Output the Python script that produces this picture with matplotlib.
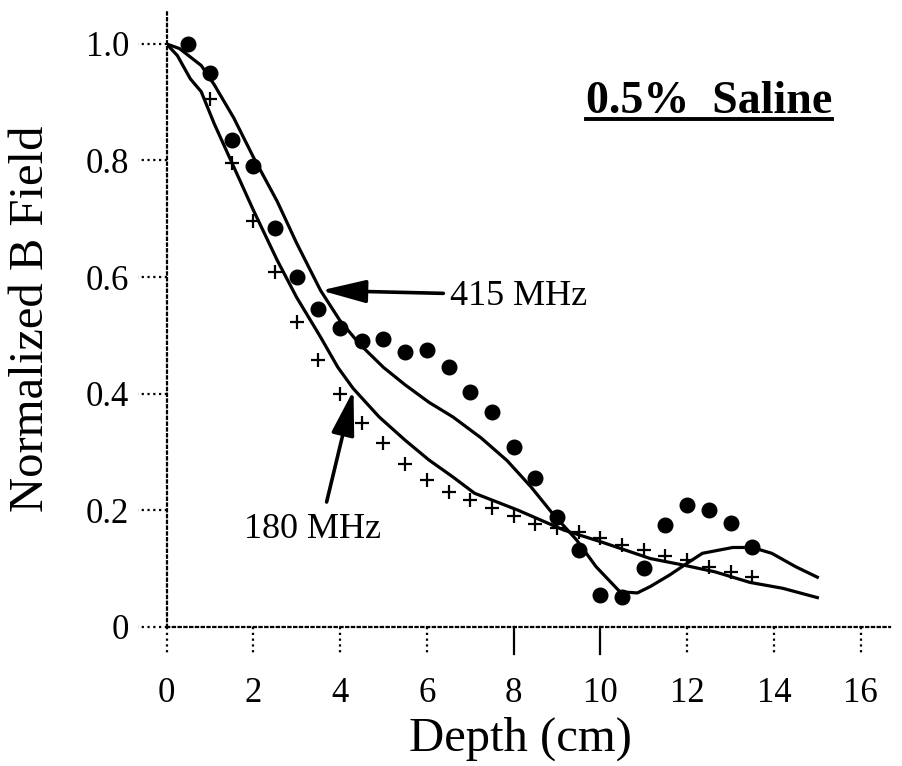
import numpy as np
import matplotlib.pyplot as plt
from matplotlib.lines import Line2D

plt.rcParams['font.family'] = ['Liberation Serif', 'DejaVu Serif']

# measured field, 415 MHz (filled circles)
depth_415 = [0.5, 1.0, 1.5, 2.0, 2.5, 3.0, 3.5, 4.0, 4.5, 5.0, 5.5, 6.0, 6.5, 7.0,
             7.5, 8.0, 8.5, 9.0, 9.5, 10.0, 10.5, 11.0, 11.5, 12.0, 12.5, 13.0, 13.5]
meas_415 = [1.0, 0.95, 0.835, 0.79, 0.685, 0.60, 0.545, 0.512, 0.49, 0.493, 0.472,
            0.475, 0.446, 0.403, 0.369, 0.309, 0.256, 0.189, 0.131, 0.054, 0.051,
            0.10, 0.174, 0.209, 0.201, 0.178, 0.137]

# measured field, 180 MHz (crosses)
depth_180 = [1.0, 1.5, 2.0, 2.5, 3.0, 3.5, 4.0, 4.5, 5.0, 5.5, 6.0, 6.5, 7.0, 7.5,
             8.0, 8.5, 9.0, 9.5, 10.0, 10.5, 11.0, 11.5, 12.0, 12.5, 13.0, 13.5]
meas_180 = [0.905, 0.795, 0.697, 0.609, 0.523, 0.457, 0.40, 0.349, 0.315, 0.28,
            0.252, 0.232, 0.217, 0.203, 0.19, 0.177, 0.17, 0.163, 0.153, 0.14,
            0.131, 0.121, 0.114, 0.103, 0.094, 0.086]

# calculated curves
calc_x_415 = [0, 0.3, 0.8, 1.1, 1.55, 2.0, 2.55, 3.0, 3.55, 4.0, 4.45, 5.0, 5.5,
              6.05, 6.6, 7.25, 7.85, 8.4, 8.9, 9.45, 9.9, 10.45, 10.85, 11.15,
              11.6, 12.0, 12.35, 13.05, 13.5, 13.95, 14.5, 15.0]
calc_y_415 = [1.0, 0.992, 0.963, 0.93, 0.873, 0.806, 0.73, 0.658, 0.577, 0.525,
              0.485, 0.445, 0.415, 0.385, 0.36, 0.324, 0.285, 0.24, 0.194, 0.149,
              0.103, 0.06, 0.058, 0.069, 0.089, 0.109, 0.126, 0.136, 0.136, 0.126,
              0.103, 0.085]

calc_x_180 = [0, 0.25, 0.55, 0.8, 1.1, 1.55, 2.0, 2.55, 3.0, 3.55, 3.95, 4.3, 4.9,
              5.5, 6.05, 6.6, 7.1, 8.1, 9.15, 10.0, 11.15, 11.9, 12.65, 13.45,
              14.2, 15.0]
calc_y_180 = [1.0, 0.98, 0.94, 0.918, 0.863, 0.789, 0.715, 0.629, 0.565, 0.497,
              0.445, 0.409, 0.36, 0.32, 0.286, 0.257, 0.229, 0.2, 0.166, 0.146,
              0.117, 0.106, 0.094, 0.076, 0.066, 0.05]

xticks = [0, 2, 4, 6, 8, 10, 12, 14, 16]
yticks = [0, 0.2, 0.4, 0.6, 0.8, 1.0]
ytick_labels = ['0', '0.2', '0.4', '0.6', '0.8', '1.0']

fig = plt.figure(figsize=(9.03, 7.66), dpi=100)
ax = fig.add_axes([0.1844, 0.1818, 0.801, 0.805])

ax.plot(calc_x_415, calc_y_415, color='black', lw=2.3)
ax.plot(calc_x_180, calc_y_180, color='black', lw=2.3)
ax.plot(depth_415, meas_415, 'o', color='black', ms=10.5)
ax.plot(depth_180, meas_180, '+', color='black', ms=10, mew=1.6)

ax.set_xlim(0, 16.67)
ax.set_ylim(0, 1.058)

# dotted axes and ticks
for s in ['top', 'right']:
    ax.spines[s].set_visible(False)
for s in ['left', 'bottom']:
    ax.spines[s].set_linestyle((0, (1, 1.6)))
    ax.spines[s].set_linewidth(1.6)

ax.set_xticks(xticks)
ax.set_yticks(yticks)
ax.set_yticklabels(ytick_labels)
ax.tick_params(axis='x', length=0, pad=36, labelsize=25)
ax.tick_params(axis='y', length=0, pad=27, labelsize=25)

xt = ax.get_xaxis_transform()
for v in xticks:
    ls = '-' if v in (8, 10) else (0, (1, 1.6))
    ax.plot([v, v], [0, -0.044], transform=xt, color='black', lw=1.6,
            ls=ls, clip_on=False)
yt = ax.get_yaxis_transform()
for v in yticks:
    ax.plot([0, -0.04], [v, v], transform=yt, color='black', lw=1.6,
            ls=(0, (1, 1.6)), clip_on=False)

ax.set_xlabel('Depth (cm)', fontsize=35)
ax.xaxis.set_label_coords(0.49, -0.145)
ax.set_ylabel('Normalized B Field', fontsize=35)
ax.yaxis.set_label_coords(-0.157, 0.5)

# arrows with labels
arrow = dict(arrowstyle='-|>,head_length=1.25,head_width=0.32', lw=2.6,
             color='black', fc='black', mutation_scale=22, shrinkA=0, shrinkB=0)
ax.annotate('', xy=(3.56, 0.577), xytext=(6.38, 0.572), arrowprops=arrow)
ax.text(6.54, 0.566, '415 MHz', fontsize=26, ha='left', va='center')
ax.annotate('', xy=(4.31, 0.406), xytext=(3.69, 0.214), arrowprops=arrow)
ax.text(3.36, 0.166, '180 MHz', fontsize=26, ha='center', va='center')

title = ax.text(12.5, 0.881, '0.5%  Saline', fontsize=33, fontweight='bold',
                ha='center', va='baseline')

# underline the title
fig.canvas.draw()
bb = title.get_window_extent().transformed(fig.transFigure.inverted())
base = ax.transData.transform((12.5, 0.881))
base_y = fig.transFigure.inverted().transform(base)[1]
uy = base_y - 6 / 766
fig.add_artist(Line2D([bb.x0, bb.x1], [uy, uy], color='black', lw=2.8))

fig.savefig('out.png', dpi=100)
